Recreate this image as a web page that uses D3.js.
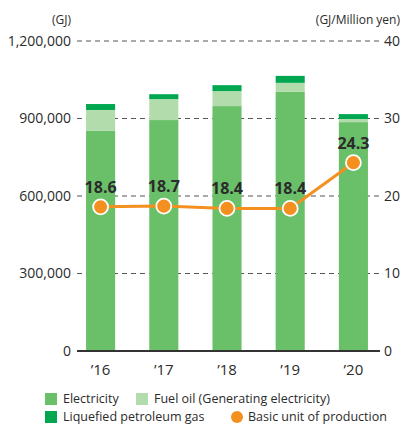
<!DOCTYPE html>
<html><head><meta charset="utf-8">
<script src="https://cdn.jsdelivr.net/npm/d3@7"></script>
<style>body{margin:0;background:#fff}svg{display:block}text{font-family:"Open Sans","Noto Sans",sans-serif;fill:#2b2b2b}</style>
</head><body>
<script>
const years = ["’16","’17","’18","’19","’20"];
const electricity = [852000, 894000, 948000, 1003000, 886000];
const fuelOil = [81000, 81000, 58000, 35000, 12000];
const lpg = [23000, 19000, 23000, 27000, 19000];
const basicUnit = [18.6, 18.7, 18.4, 18.4, 24.3];
const leftTicks = [0, 300000, 600000, 900000, 1200000];
const rightTicks = [0, 10, 20, 30, 40];
const seriesNames = ["Electricity", "Fuel oil (Generating electricity)", "Liquefied petroleum gas", "Basic unit of production"];
const colors = ["#6abf69", "#b3dcac", "#00a650", "#f39020"];

const W = 401, H = 425;
const svg = d3.select("body").append("svg").attr("width", W).attr("height", H);
const x = d3.scaleBand().domain(years).range([69, 385]).paddingInner(0.54).paddingOuter(0.27);
const yL = d3.scaleLinear().domain([0, 1200000]).range([351, 41]);
const yR = d3.scaleLinear().domain([0, 40]).range([351, 41]);

// grid
svg.append("g").selectAll("line").data(leftTicks.filter(d => d > 0)).join("line")
  .attr("x1", 77).attr("x2", 380).attr("y1", d => yL(d)).attr("y2", d => yL(d))
  .attr("stroke", "#555").attr("stroke-width", 1.2).attr("stroke-dasharray", "5,4");

// axes
const la = svg.append("g").attr("transform", "translate(77,0)")
  .call(d3.axisLeft(yL).tickValues(leftTicks).tickSize(0).tickPadding(6).tickFormat(d3.format(",")));
la.select(".domain").remove();
la.selectAll("text").attr("font-size", 14).style("font-family", "'Open Sans',sans-serif").attr("fill", "#2b2b2b");
const ra = svg.append("g").attr("transform", "translate(380,0)")
  .call(d3.axisRight(yR).tickValues(rightTicks).tickSize(0).tickPadding(4));
ra.select(".domain").remove();
ra.selectAll("text").attr("font-size", 14).style("font-family", "'Open Sans',sans-serif").attr("fill", "#2b2b2b");

svg.append("text").attr("x", 71).attr("y", 24).attr("text-anchor", "end").attr("font-size", 12).text("(GJ)");
svg.append("text").attr("x", 400).attr("y", 24).attr("text-anchor", "end").attr("font-size", 12).text("(GJ/Million yen)");

// stacked bars
const rows = years.map((y, i) => ({year: y, e: electricity[i], f: fuelOil[i], l: lpg[i]}));
const stack = d3.stack().keys(["e", "f", "l"])(rows);
svg.append("g").selectAll("g").data(stack).join("g").attr("fill", (d, i) => colors[i])
  .selectAll("rect").data(d => d).join("rect")
  .attr("x", d => x(d.data.year)).attr("width", x.bandwidth())
  .attr("y", d => yL(d[1])).attr("height", d => yL(d[0]) - yL(d[1]));

// baseline
svg.append("line").attr("x1", 77).attr("x2", 380).attr("y1", yL(0)).attr("y2", yL(0)).attr("stroke", "#333").attr("stroke-width", 2);

// x labels
svg.append("g").selectAll("text").data(years).join("text")
  .attr("x", d => x(d) + x.bandwidth() / 2).attr("y", 375).attr("text-anchor", "middle").attr("font-size", 15).text(d => d);

// line
const cx = (d, i) => x(years[i]) + x.bandwidth() / 2;
svg.append("path").datum(basicUnit)
  .attr("d", d3.line().x(cx).y(d => yR(d)))
  .attr("fill", "none").attr("stroke", colors[3]).attr("stroke-width", 3);
svg.append("g").selectAll("circle").data(basicUnit).join("circle")
  .attr("cx", cx).attr("cy", d => yR(d)).attr("r", 7.5)
  .attr("fill", colors[3]).attr("stroke", "#fff").attr("stroke-width", 1.8);
svg.append("g").selectAll("text").data(basicUnit).join("text")
  .attr("x", cx).attr("y", d => yR(d) - 14).attr("text-anchor", "middle")
  .attr("font-size", 16).attr("font-weight", "bold").attr("fill", "#222").text(d => d.toFixed(1));

// legend
const leg = [
  {i: 0, x: 45, y: 399}, {i: 1, x: 136, y: 399},
  {i: 2, x: 45, y: 417}, {i: 3, x: 230, y: 417}
];
const lg = svg.append("g");
leg.forEach(o => {
  if (o.i < 3) lg.append("rect").attr("x", o.x).attr("y", o.y - 6).attr("width", 12).attr("height", 12).attr("fill", colors[o.i]);
  else lg.append("circle").attr("cx", o.x + 7).attr("cy", o.y).attr("r", 6).attr("fill", colors[3]);
  lg.append("text").attr("x", o.x + 18).attr("y", o.y).attr("dy", "0.35em").attr("font-size", 12.5).text(seriesNames[o.i]);
});
</script>
</body></html>
